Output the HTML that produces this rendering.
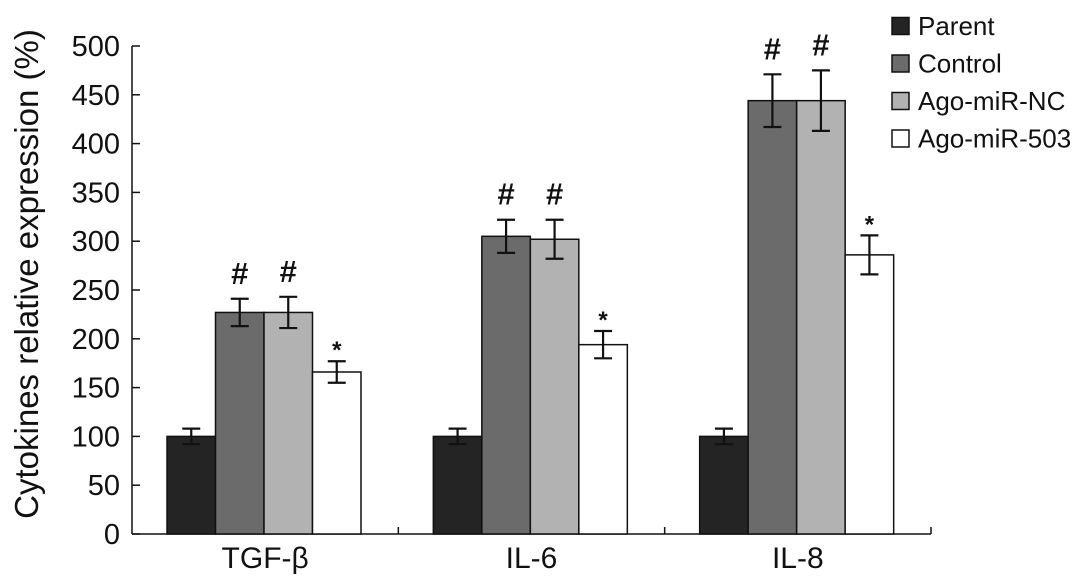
<!DOCTYPE html>
<html><head><meta charset="utf-8"><style>
html,body{margin:0;padding:0;background:#fff;}
svg{display:block;font-family:"Liberation Sans",Arial,sans-serif;}
</style></head><body>
<svg id="chart" width="1087" height="588" viewBox="0 0 1087 588" xmlns="http://www.w3.org/2000/svg">
<text transform="translate(38,274) rotate(-90)" text-anchor="middle" font-size="33" fill="#111">Cytokines relative expression (%)</text>
<g id="axes"></g>
<g id="bars"></g>
<g id="legend"></g>
</svg>
<script>
const categories = ["TGF-β", "IL-6", "IL-8"];
const seriesNames = ["Parent", "Control", "Ago-miR-NC", "Ago-miR-503"];
const parentVals = [100, 100, 100];
const controlVals = [227, 305, 444];
const ncVals = [227, 302, 444];
const ago503Vals = [166, 194, 286];
const parentErr = [8, 8, 8];
const controlErr = [14, 17, 27];
const ncErr = [16, 20, 31];
const ago503Err = [11, 14, 20];
const parentMarks = ["", "", ""];
const controlMarks = ["#", "#", "#"];
const ncMarks = ["#", "#", "#"];
const ago503Marks = ["*", "*", "*"];
const yTicks = [0, 50, 100, 150, 200, 250, 300, 350, 400, 450, 500];

const NS = "http://www.w3.org/2000/svg";
const X0 = 132, X1 = 931, Y0 = 534, Y500 = 46;
const groupW = (X1 - X0) / categories.length;
const barW = 48.5, groupPad = 35;
const colors = ["#242424", "#6b6b6b", "#b2b2b2", "#ffffff"];
const vals = [parentVals, controlVals, ncVals, ago503Vals];
const errs = [parentErr, controlErr, ncErr, ago503Err];
const marks = [parentMarks, controlMarks, ncMarks, ago503Marks];
function y(v){ return Y0 - (v / 500) * (Y0 - Y500); }
function bx(ci, si){ return X0 + ci * groupW + groupPad + si * barW; }
function mk(tag, attrs, parent){
  const e = document.createElementNS(NS, tag);
  for (const k in attrs) e.setAttribute(k, attrs[k]);
  parent.appendChild(e); return e;
}
const axes = document.getElementById("axes");
const bars = document.getElementById("bars");
const legend = document.getElementById("legend");

const yAxis = mk("line", {x1:X0, y1:Y500, x2:X0, y2:Y0, stroke:"#111", "stroke-width":1.5}, axes);


const xAxis = mk("line", {x1:X0, y1:Y0, x2:X1, y2:Y0, stroke:"#111", "stroke-width":1.5}, axes);


yTicks.forEach(t => {
  const tk = mk("line", {x1:X0, y1:y(t), x2:X0+8, y2:y(t), stroke:"#111", "stroke-width":1.5}, axes);
  
  
  const lb = mk("text", {x:120, y:y(t)+10, "text-anchor":"end", "font-size":29, fill:"#111"}, axes);
  lb.textContent = t;
  
  
});
for (let i = 1; i <= categories.length; i++) {
  const xt = X0 + i * groupW;
  const tk = mk("line", {x1:xt, y1:Y0, x2:xt, y2:Y0-7, stroke:"#111", "stroke-width":1.5}, axes);
  
  
}
categories.forEach((c, ci) => {
  const lb = mk("text", {x:X0 + ci*groupW + groupW/2, y:568, "text-anchor":"middle", "font-size":30, fill:"#111"}, axes);
  lb.textContent = c;
  
  
  vals.forEach((sv, si) => {
    const v = sv[ci], e = errs[si][ci], x = bx(ci, si), cx = x + barW/2;
    const r = mk("rect", {x:x, y:y(v), width:barW, height:Y0-y(v), fill:colors[si], stroke:"#111", "stroke-width":1.5}, bars);
    
    
    const eb = mk("path", {d:`M${cx},${y(v+e)}V${y(v-e)}M${cx-9},${y(v+e)}H${cx+9}M${cx-9},${y(v-e)}H${cx+9}`, stroke:"#111", "stroke-width":2.2, fill:"none"}, bars);
    
    
    const m = marks[si][ci];
    if (m) {
      const isHash = m === "#";
      const t = mk("text", {x:cx, y: isHash ? y(v+e)-15 : y(v+e)-3, "text-anchor":"middle", "font-size": isHash ? 31 : 24, "font-weight":"bold", fill:"#111"}, bars);
      t.textContent = m;
      
      
    }
  });
});
seriesNames.forEach((n, si) => {
  const cy = 26 + si * 37.5;
  const sq = mk("rect", {x:892, y:cy-8.5, width:17, height:17, fill:colors[si], stroke:"#111", "stroke-width":1.5}, legend);
  
  
  const t = mk("text", {x:918, y:cy+9, "font-size":26, fill:"#111"}, legend);
  t.textContent = n;
  
  
});
</script>
</body></html>
